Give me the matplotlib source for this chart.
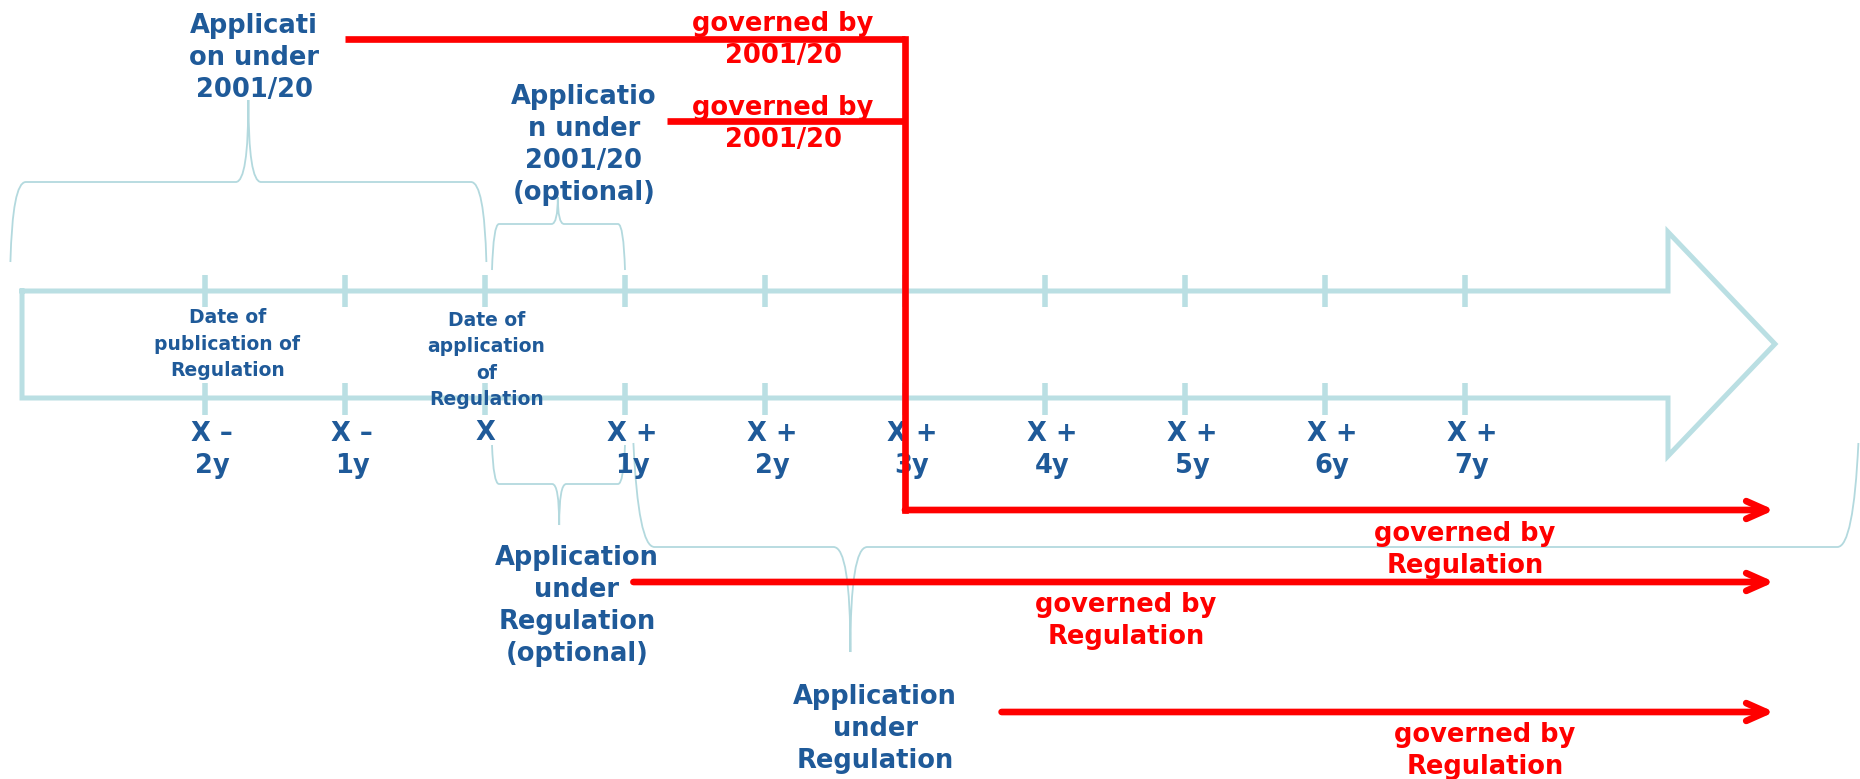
import matplotlib
import matplotlib.pyplot as plt
from matplotlib.path import Path
from matplotlib.patches import PathPatch

matplotlib.use("Agg")

# timeline, in years relative to X = date of application of the Regulation
TICK_YEARS = [-2, -1, 0, 1, 2, 3, 4, 5, 6, 7]
TICK_LABELS = ["X –\n2y", "X –\n1y", "X", "X +\n1y", "X +\n2y",
               "X +\n3y", "X +\n4y", "X +\n5y", "X +\n6y", "X +\n7y"]
MILESTONE_YEARS = [-1.84, 0.01]
MILESTONE_LABELS = ["Date of\npublication of\nRegulation",
                    "Date of\napplication\nof\nRegulation"]

# braces above the timeline: start, end, tip (years)
UPPER_BRACE_START = [-3.39, 0.05]
UPPER_BRACE_END = [0.01, 1.0]
UPPER_BRACE_TIP = [-1.69, 0.52]
UPPER_LABELS = ["Applicati\non under\n2001/20",
                "Applicatio\nn under\n2001/20\n(optional)"]

# braces below the timeline
LOWER_BRACE_START = [0.05, 1.06]
LOWER_BRACE_END = [1.0, 9.81]
LOWER_BRACE_TIP = [0.53, 2.61]
LOWER_LABELS = ["Application\nunder\nRegulation\n(optional)",
                "Application\nunder\nRegulation"]

# applications filed under 2001/20 until the switch year
OLD_STARTS = [-1.0, 1.3]
SWITCH_YEAR = 3.0
# "governed by Regulation" arrows
NEW_STARTS = [3.0, 1.06, 3.69]
TIMELINE_END = 9.21

BLUE = "#1F5A99"
RED = "#FF0000"
PALE = "#BADFE3"
BRACE = "#B3D9DE"

X_ORIGIN_PX = 485
STEP_PX = 140
W, H = 1860, 779


def draw_brace(ax, x0, x1, xt, y_end, y_bar, y_tip, r, r_tip, lean):
    verts = [
        (x0, y_end), (x0 + lean, y_bar), (x0 + r, y_bar),
        (xt - r_tip, y_bar), (xt, y_bar), (xt, y_tip),
        (xt, y_bar), (xt + r_tip, y_bar),
        (x1 - r, y_bar), (x1 - lean, y_bar), (x1, y_end),
    ]
    codes = [Path.MOVETO, Path.CURVE3, Path.CURVE3, Path.LINETO,
             Path.CURVE3, Path.CURVE3, Path.CURVE3, Path.CURVE3,
             Path.LINETO, Path.CURVE3, Path.CURVE3]
    ax.add_patch(PathPatch(Path(verts, codes), fill=False, edgecolor=BRACE,
                           lw=1.3, zorder=1))


def main() -> None:
    fig = plt.figure(figsize=(W / 100, H / 100), dpi=100)
    ax = fig.add_axes([0, 0, 1, 1])
    ax.set_xlim(-X_ORIGIN_PX / STEP_PX, (W - X_ORIGIN_PX) / STEP_PX)
    ax.set_ylim(H, 0)
    ax.axis("off")

    # y of text = baseline of the last line
    text_kw = dict(family="DejaVu Sans", weight="bold", ha="center",
                   va="baseline", multialignment="center")

    # outline arrow of the timeline
    x_start, x_neck, x_tip = -3.307, 8.45, 9.214
    top, bot, head_top, head_bot, mid = 291, 398, 232, 456, 344
    ax.plot([x_start, x_neck, x_neck, x_tip, x_neck, x_neck, x_start, x_start],
            [top, top, head_top, mid, head_bot, bot, bot, top],
            color=PALE, lw=3.6, solid_joinstyle="miter", zorder=1)
    ax.vlines(TICK_YEARS, top - 16, top + 16, color=PALE, lw=4, zorder=1)
    ax.vlines(TICK_YEARS, bot - 15, bot + 17, color=PALE, lw=4, zorder=1)

    for year, label in zip(TICK_YEARS, TICK_LABELS):
        two_lines = "\n" in label
        ax.text(year + (0.05 if two_lines else 0.0), 473 if two_lines else 440,
                label, fontsize=18.5, color=BLUE, linespacing=1.3, zorder=2,
                **text_kw)

    for year, label, base in zip(MILESTONE_YEARS, MILESTONE_LABELS, [376, 405]):
        ax.text(year, base, label, fontsize=13.5, color=BLUE,
                linespacing=1.5, zorder=2, **text_kw)

    # braces
    upper_rows = [(262, 182, 100, 0.11, 0.09, 0.015), (270, 224, 197, 0.05, 0.045, 0.01)]
    for x0, x1, xt, row in zip(UPPER_BRACE_START, UPPER_BRACE_END,
                               UPPER_BRACE_TIP, upper_rows):
        draw_brace(ax, x0, x1, xt, *row)
    lower_rows = [(445, 484, 525, 0.05, 0.05, 0.01), (443, 547, 652, 0.15, 0.12, 0.035)]
    for x0, x1, xt, row in zip(LOWER_BRACE_START, LOWER_BRACE_END,
                               LOWER_BRACE_TIP, lower_rows):
        draw_brace(ax, x0, x1, xt, *row)

    for label, (x, base) in zip(UPPER_LABELS, [(-1.65, 97), (0.707, 200)]):
        ax.text(x, base, label, fontsize=18.5, color=BLUE, linespacing=1.3,
                zorder=2, **text_kw)
    for label, (x, base) in zip(LOWER_LABELS, [(0.657, 661), (2.786, 768)]):
        ax.text(x, base, label, fontsize=18.5, color=BLUE, linespacing=1.3,
                zorder=2, **text_kw)

    # applications under 2001/20, switching at year 3
    old_rows = [39, 121]
    new_rows = [510, 582, 712]
    for start, y in zip(OLD_STARTS, old_rows):
        ax.plot([start, SWITCH_YEAR], [y, y], color=RED, lw=4.8,
                solid_capstyle="butt", zorder=3)
    ax.plot([SWITCH_YEAR, SWITCH_YEAR], [old_rows[0], new_rows[0]], color=RED,
            lw=4.8, solid_capstyle="projecting", zorder=3)
    for base in [63, 147]:
        ax.text(2.129, base, "governed by\n2001/20", fontsize=18.5, color=RED,
                linespacing=1.28, zorder=4, **text_kw)

    for start, y in zip(NEW_STARTS, new_rows):
        ax.annotate("", xy=(TIMELINE_END, y), xytext=(start, y),
                    arrowprops=dict(arrowstyle="->,head_length=0.72,head_width=0.32",
                                    color=RED, lw=4.8, shrinkA=0, shrinkB=0,
                                    mutation_scale=20),
                    zorder=3)
    for x, base in [(7.0, 573), (4.579, 644), (7.143, 774)]:
        ax.text(x, base, "governed by\nRegulation", fontsize=18.5, color=RED,
                linespacing=1.28, zorder=4, **text_kw)

    fig.savefig("out.png", dpi=100)
    plt.close(fig)


if __name__ == "__main__":
    main()
